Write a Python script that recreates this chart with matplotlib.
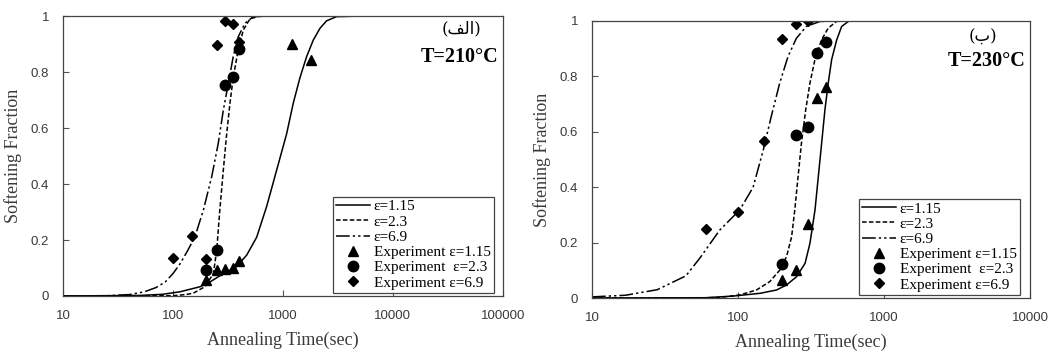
import numpy as np
import matplotlib.pyplot as plt

# ---- panel (a): T=210C ----
a_t1 = [10, 50, 80, 116, 176, 217, 287, 379, 468, 577, 711, 877, 1081, 1243, 1428, 1641,
        1886, 2168, 2493, 3076, 5300]
a_y1 = [0, 0.002, 0.006, 0.015, 0.033, 0.05, 0.08, 0.105, 0.146, 0.21, 0.32, 0.45, 0.58,
        0.69, 0.78, 0.855, 0.914, 0.956, 0.983, 0.998, 1]
a_t2 = [10, 100, 130, 153, 195, 233, 250, 267, 287, 308, 330, 353, 392, 436, 501, 617, 817]
a_y2 = [0, 0.001, 0.005, 0.01, 0.033, 0.08, 0.164, 0.31, 0.45, 0.58, 0.69, 0.78, 0.88,
        0.95, 0.99, 1, 1]
a_t3 = [10, 25, 40, 55, 70, 85, 100, 116, 135, 158, 189, 225, 258, 287, 319, 353, 392,
        451, 537, 817]
a_y3 = [0, 0.001, 0.005, 0.015, 0.03, 0.05, 0.08, 0.115, 0.16, 0.21, 0.307, 0.426, 0.545,
        0.664, 0.76, 0.855, 0.926, 0.974, 0.998, 1]
a_exp_t1 = [200, 250, 300, 350, 400, 1200, 1800]
a_exp_y1 = [0.058, 0.092, 0.098, 0.10, 0.125, 0.90, 0.843]
a_exp_t2 = [200, 250, 300, 350, 400]
a_exp_y2 = [0.092, 0.166, 0.753, 0.783, 0.884]
a_exp_t3 = [100, 150, 200, 250, 300, 350, 400]
a_exp_y3 = [0.134, 0.213, 0.131, 0.896, 0.983, 0.971, 0.908]

# ---- panel (b): T=230C ----
b_t1 = [10, 60, 93, 142, 184, 215, 252, 288, 311, 337, 355, 374, 394, 415, 438, 474, 513,
        570, 580]
b_y1 = [0, 0.001, 0.007, 0.017, 0.029, 0.047, 0.077, 0.125, 0.197, 0.318, 0.438, 0.558,
        0.679, 0.775, 0.86, 0.931, 0.98, 0.998, 1]
b_t2 = [10, 50, 75, 103, 134, 165, 193, 215, 233, 245, 258, 272, 291, 311, 336, 373, 415,
        473, 530]
b_y2 = [0, 0, 0.002, 0.011, 0.029, 0.059, 0.10, 0.149, 0.221, 0.318, 0.438, 0.558, 0.679,
        0.775, 0.859, 0.931, 0.974, 0.998, 1]
b_t3 = [10, 17, 28, 44, 55, 75, 103, 127, 149, 169, 193, 220, 251, 294, 364, 530]
b_y3 = [0.004, 0.01, 0.03, 0.08, 0.145, 0.245, 0.318, 0.40, 0.534, 0.655, 0.775, 0.871,
        0.937, 0.98, 0.998, 1]
b_exp_t1 = [200, 250, 300, 350, 400]
b_exp_y1 = [0.066, 0.10, 0.266, 0.72, 0.76]
b_exp_t2 = [200, 250, 300, 350, 400]
b_exp_y2 = [0.124, 0.588, 0.618, 0.883, 0.925]
b_exp_t3 = [60, 100, 150, 200, 250, 300]
b_exp_y3 = [0.25, 0.31, 0.567, 0.935, 0.989, 0.998]

labels = ["ε=1.15", "ε=2.3", "ε=6.9", "Experiment ε=1.15", "Experiment  ε=2.3", "Experiment ε=6.9"]

serif = "Liberation Serif"
grey = "#3a3a3a"

fig = plt.figure(figsize=(10.55, 3.53), dpi=100)
ax1 = fig.add_axes([0.0597, 0.1615, 0.417, 0.793])
ax2 = fig.add_axes([0.5611, 0.1558, 0.4152, 0.785])


def draw(ax, curves, exps, xmax, tag, temp, legbox):
    styles = ["-", (0, (3, 1.5)), (0, (9, 2, 1.5, 2, 1.5, 2))]
    for (t, y), ls, lab in zip(curves, styles, labels[:3]):
        ax.plot(t, y, color="black", lw=1.1, ls=ls, label=lab)
    marks = [("^", 7), ("o", 7.5), ("D", 5.5)]
    for (t, y), (m, ms), lab in zip(exps, marks, labels[3:]):
        ax.plot(t, y, ls="none", marker=m, ms=ms, color="black", label=lab)
    ax.set_xscale("log")
    ax.set_xlim(10, xmax)
    ax.set_ylim(0, 1)
    ax.set_yticks([0, 0.2, 0.4, 0.6, 0.8, 1])
    ax.set_yticklabels(["0", "0.2", "0.4", "0.6", "0.8", "1"])
    ax.minorticks_off()
    ticks = [10 ** k for k in range(1, int(np.log10(xmax)) + 1)]
    ax.set_xticks(ticks)
    ax.set_xticklabels([str(v) for v in ticks])
    ax.tick_params(direction="in", length=4, width=0.8, labelsize=9.5, labelcolor=grey,
                   colors="#555555", pad=10)
    for lab in ax.get_xticklabels() + ax.get_yticklabels():
        lab.set_family("Liberation Sans")
    for s in ax.spines.values():
        s.set_color("#444444")
        s.set_linewidth(0.9)
    ax.set_xlabel("Annealing Time(sec)", family=serif, fontsize=13, color=grey, labelpad=7)
    ax.set_ylabel("Softening Fraction", family=serif, fontsize=13, color=grey, labelpad=6)
    ax.text(tag[0], tag[1], tag[2], transform=ax.transAxes, ha="center", va="center",
            family=["DejaVu Serif", "DejaVu Sans"], fontsize=12)
    ax.text(0.99, temp[0], temp[1], transform=ax.transAxes, ha="right", va="center",
            family=serif, fontsize=14.5, fontweight="bold")
    leg = ax.legend(loc="lower left", bbox_to_anchor=legbox, prop={"family": serif, "size": 11},
                    frameon=True, fancybox=False, edgecolor="#444444", framealpha=1,
                    handlelength=2.2, handletextpad=0.25, labelspacing=0.1, borderpad=0.2,
                    borderaxespad=0)
    leg.get_frame().set_linewidth(0.9)


# "(الف)" written with Arabic presentation forms in display order, since matplotlib does not shape Arabic
draw(ax1, [(a_t1, a_y1), (a_t2, a_y2), (a_t3, a_y3)],
     [(a_exp_t1, a_exp_y1), (a_exp_t2, a_exp_y2), (a_exp_t3, a_exp_y3)],
     100000, (0.905, 0.955, "(\ufed2\ufedf\ufe8d)"), (0.855, "T=210°C"), (0.614, 0.012))
draw(ax2, [(b_t1, b_y1), (b_t2, b_y2), (b_t3, b_y3)],
     [(b_exp_t1, b_exp_y1), (b_exp_t2, b_exp_y2), (b_exp_t3, b_exp_y3)],
     10000, (0.893, 0.94, "(ب)"), (0.857, "T=230°C"), (0.61, 0.012))

fig.savefig("out.png", dpi=100)
